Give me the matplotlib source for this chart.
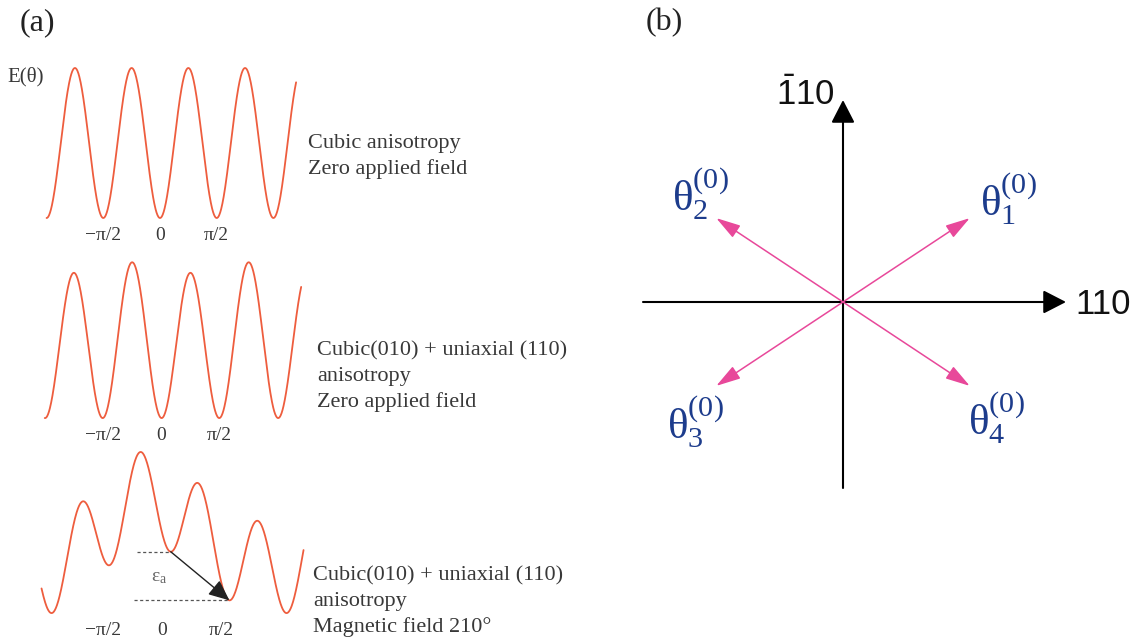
import numpy as np
import matplotlib.pyplot as plt

plt.rcParams['mathtext.fontset'] = 'custom'
plt.rcParams['mathtext.rm'] = 'Liberation Serif'
plt.rcParams['mathtext.it'] = 'Liberation Serif:italic'
plt.rcParams['mathtext.sf'] = 'Liberation Sans'

W, H = 1135, 639
fig = plt.figure(figsize=(W / 100, H / 100), dpi=100)

# anisotropy constants in units of K1, reduced field and its direction
K1 = 1.0
Ku = 0.07
h_field = 0.385
field_deg = 210

# angular span of each curve, in units of pi
spans = [(-1.0, 1.2), (-1.0, 1.2), (-1.09, 1.14)]
tick_vals = [-np.pi / 2, 0, np.pi / 2]
tick_text = ['\u2212\u03c0/2', '0', '\u03c0/2']

captions = [
    ['Cubic anisotropy', 'Zero applied field'],
    ['Cubic(010) + uniaxial (110)', 'anisotropy', 'Zero applied field'],
    ['Cubic(010) + uniaxial (110)', 'anisotropy', 'Magnetic field 210\u00b0'],
]

# directions of the four easy axes (degrees) in panel (b)
easy_deg = [33.5, 146.5, 213.5, 326.5]
easy_len = 152
easy_lbl = [r'$\mathrm{\theta}_{1}^{(0)}$', r'$\mathrm{\theta}_{2}^{(0)}$',
            r'$\mathrm{\theta}_{3}^{(0)}$', r'$\mathrm{\theta}_{4}^{(0)}$']
easy_lbl_pos = [(165, 103), (-143, 108), (-148, -120), (153, -116)]


def cubic(t):
    return K1 * np.sin(2 * t) ** 2


def uniaxial(t):
    return Ku * np.sin(t - np.pi / 4) ** 2


def zeeman(t):
    # field angle measured clockwise
    return -h_field * np.cos(t + np.deg2rad(field_deg))


energies = [
    lambda t: cubic(t),
    lambda t: cubic(t) + uniaxial(t),
    lambda t: cubic(t) + uniaxial(t) + zeeman(t),
]

# (x of theta=0, px per rad, y of E=0, px per unit E, box top, box bottom)
layouts = [
    (160.0, 36.1, 218.0, 150.0, 55, 250),
    (161.3, 37.1, 423.3, 150.5, 255, 450),
    (169.6, 37.4, 585.4, 92.5, 440, 639),
]
tick_shift = [0.0, 0.0, -0.2]
caption_pos = [(308, 148), (317, 355), (313, 580)]

curve_color = '#ee5d3e'
text_color = '#383838'
serif = 'Liberation Serif'


def curve_axes(x0, sx, y0, sy, top, bottom, left=25, right=310):
    ax = fig.add_axes([left / W, 1 - bottom / H, (right - left) / W, (bottom - top) / H])
    ax.set_xlim((left - x0) / sx, (right - x0) / sx)
    ax.set_ylim((y0 - bottom) / sy, (y0 - top) / sy)
    ax.axis('off')
    return ax


for i, (span, energy, lay) in enumerate(zip(spans, energies, layouts)):
    ax = curve_axes(*lay)
    t = np.linspace(span[0] * np.pi, span[1] * np.pi, 800)
    e = energy(t)
    ax.plot(t, e, color=curve_color, lw=1.3, solid_capstyle='round')
    for tv, tt in zip(tick_vals, tick_text):
        ax.annotate(tt, xy=(tv + tick_shift[i], e.min()), xytext=(0, -22),
                    textcoords='offset pixels', ha='center', va='baseline',
                    fontsize=14, family=serif, color=text_color)
    cx, cy = caption_pos[i]
    for k, line in enumerate(captions[i]):
        fig.text(cx / W, 1 - (cy + 26 * k) / H, line, ha='left', va='baseline',
                 fontsize=16, family=serif, color=text_color)

    if i == 2:
        # barrier between the local minimum near 0 and the one near pi/2
        m0 = (t > -0.5) & (t < 0.6)
        m1 = (t > 1.0) & (t < 2.1)
        t0, e0 = t[m0][np.argmin(e[m0])], e[m0].min()
        t1, e1 = t[m1][np.argmin(e[m1])], e[m1].min()
        ax.plot([t0 - 0.9, t0], [e0, e0], color='#555555', lw=0.9, ls=(0, (2.5, 2)))
        ax.plot([t1 - 2.55, t1], [e1, e1], color='#555555', lw=0.9, ls=(0, (2.5, 2)))
        ax.annotate('', xy=(t1, e1), xytext=(t0, e0),
                    arrowprops=dict(arrowstyle='-|>,head_length=0.8,head_width=0.35',
                                    color='#222222', lw=1.0, mutation_scale=16,
                                    shrinkA=0, shrinkB=0))
        ax.text(t0 - 0.3, (e0 + e1) / 2, r'$\mathrm{\varepsilon}_{\mathrm{a}}$',
                ha='center', va='center', fontsize=14, color='#666666')

fig.text(7 / W, 1 - 81 / H, 'E(\u03b8)', ha='left', va='baseline',
         fontsize=15, family=serif, color=text_color)
fig.text(37 / W, 1 - 23 / H, '(a)', ha='center', va='center',
         fontsize=23, family=serif, color='#222222')
fig.text(664 / W, 1 - 23 / H, '(b)', ha='center', va='center',
         fontsize=23, family=serif, color='#222222')

# panel (b): crystal axes and the four easy directions
axb = fig.add_axes([600 / W, 1 - 520 / H, 535 / W, 460 / H])
axb.set_xlim(-243, 292)
axb.set_ylim(-218, 242)
axb.axis('off')

ax_head = dict(arrowstyle='-|>,head_length=0.7,head_width=0.36', color='black',
               lw=1.5, mutation_scale=20, shrinkA=0, shrinkB=0)
axb.annotate('', xy=(223, 0), xytext=(-200, 0), arrowprops=ax_head)
axb.annotate('', xy=(0, 202), xytext=(0, -186), arrowprops=ax_head)
axb.text(232, -3, '110', ha='left', va='center', fontsize=25,
         family='Liberation Sans', color='#111111', clip_on=False)
axb.text(-8, 207, r'$\mathsf{\bar{1}10}$', ha='right', va='center', fontsize=25,
         color='#111111')

pink = '#e8489a'
for ang, lbl, pos in zip(easy_deg, easy_lbl, easy_lbl_pos):
    a = np.deg2rad(ang)
    axb.annotate('', xy=(easy_len * np.cos(a), easy_len * np.sin(a)), xytext=(0, 0),
                 arrowprops=dict(arrowstyle='-|>,head_length=0.75,head_width=0.22',
                                 color=pink, lw=1.1, mutation_scale=20,
                                 shrinkA=0, shrinkB=0))
    axb.text(pos[0], pos[1], lbl, ha='center', va='center', fontsize=31,
             color='#1d3c8c')

fig.savefig('out.png', dpi=100)
